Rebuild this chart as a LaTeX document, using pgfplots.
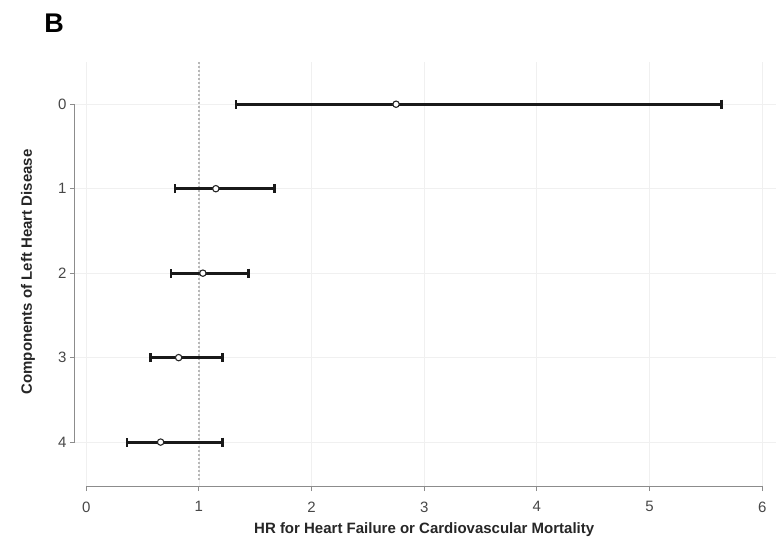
\documentclass[border=0pt]{standalone}
\usepackage{pgfplots}
\pgfplotsset{compat=1.18}
\usepackage{pgfplotstable}
\usepackage{fontspec}
\setmainfont{Liberation Sans}

% Hazard ratios with 95% CI by number of left heart disease components
\pgfplotstableread{
row hr    lo   hi
0   2.75  1.33 5.64
1   1.15  0.79 1.67
2   1.035 0.75 1.44
3   0.82  0.57 1.21
4   0.66  0.36 1.21
}\hrdata

\begin{document}
\begin{tikzpicture}
\useasboundingbox (-75pt,-57pt) rectangle (701pt,486pt);
\begin{axis}[
  at={(0pt,0pt)}, anchor=south west,
  scale only axis, width=700.7pt, height=424pt,
  xmin=-0.1, xmax=6.12, ymin=-0.5, ymax=4.52, y dir=reverse,
  xtick={0,1,2,3,4,5,6}, ytick={0,1,2,3,4},
  axis line style={draw=none},
  xtick pos=bottom, ytick pos=left,
  tick align=outside,
  major tick length=5pt,
  tick style={black!45, line width=1pt},
  grid=major,
  major grid style={black!6, line width=0.8pt},
  ticklabel style={font=\fontsize{15}{15}\selectfont, text=black!72},
  xticklabel style={yshift=-7pt},
  /pgf/number format/assume math mode=true,
  clip=false,
  xlabel={HR for Heart Failure or Cardiovascular Mortality},
  ylabel={Components of Left Heart Disease},
  label style={font=\bfseries\fontsize{15}{15}\selectfont, text=black!85},
  xlabel style={at={(axis description cs:0.4984,-0.1038)}, anchor=center},
  ylabel style={at={(axis description cs:-0.0671,0.505)}, anchor=center},
]
% reference line at HR = 1
\draw[black!28, dash pattern=on 1.5pt off 2.5pt, line width=1.3pt] (axis cs:1,-0.5) -- (axis cs:1,4.45);
% axis lines spanning the tick range only
\draw[black!45, line width=1pt] (axis cs:0,4.52) -- (axis cs:6,4.52);
\draw[black!45, line width=1pt] (axis cs:-0.1,0) -- (axis cs:-0.1,4);

\addplot[draw=none, mark=none,
  error bars/.cd, x dir=both, x explicit,
  error bar style={line width=3pt, black!90},
  error mark=|,
  error mark options={line width=2.4pt, mark size=4.5pt, black!90}]
  table[x=hr, y=row,
        x error plus expr=\thisrow{hi}-\thisrow{hr},
        x error minus expr=\thisrow{hr}-\thisrow{lo}] {\hrdata};

\addplot[only marks, mark=*, mark size=3.2pt,
  mark options={fill=white, draw=black!85, line width=1.1pt}]
  table[x=hr, y=row] {\hrdata};
\end{axis}
\node[font=\bfseries\fontsize{27}{27}\selectfont] at (-21pt,463pt) {B};
\end{tikzpicture}
\end{document}
